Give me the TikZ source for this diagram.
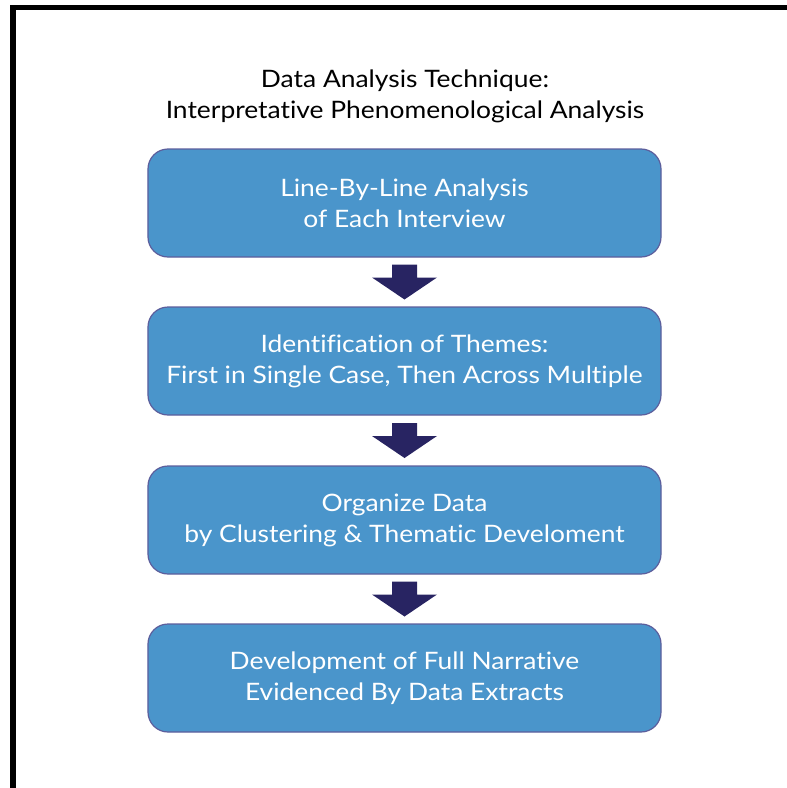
\documentclass[tikz,border=0pt]{standalone}
\usepackage{fontspec}
\setmainfont{Lato}[FakeStretch=1.1, Ligatures={NoCommon}]
\usetikzlibrary{calc}
\definecolor{boxfill}{RGB}{74,149,203}
\definecolor{boxline}{RGB}{92,94,156}
\definecolor{arrowc}{RGB}{40,36,98}
\tikzset{
  stepbox/.style={rectangle, rounded corners=20bp, minimum width=513bp, minimum height=108bp,
    fill=boxfill, draw=boxline, line width=1.2bp, text=white, align=center,
    font=\fontsize{24bp}{31bp}\selectfont, inner sep=0pt},
  titletext/.style={align=center, font=\fontsize{24bp}{31bp}\selectfont, text=black, inner sep=0pt},
  blockarrow/.style={fill=arrowc, draw=none}
}
\begin{document}
\begin{tikzpicture}[x=1bp,y=-1bp]
\useasboundingbox (0,0) rectangle (787,788);
\clip (0,0) rectangle (787,788);
\draw[line width=5.5bp, line cap=rect] (13,795) -- (13,7.5) -- (795,7.5);
\node[titletext] (title) at (405,96) {Data Analysis Technique:\\Interpretative Phenomenological Analysis};
\node[stepbox] (b1) at (404.5,203) {Line-By-Line Analysis\\of Each Interview};
\node[stepbox] (b2) at (404.5,361) {Identification of Themes:\\First in Single Case, Then Across Multiple};
\node[stepbox] (b3) at (404.5,520) {Organize Data\\by Clustering \& Thematic Develoment};
\node[stepbox] (b4) at (404.5,678) {Development of Full Narrative\\Evidenced By Data Extracts};
\foreach \a/\b/\n in {b1/b2/m1, b2/b3/m2, b3/b4/m3}{
  \coordinate (\n) at ($(\a.south)!0.5!(\b.north)$);
  \fill[blockarrow] ($(\n)+(-12.5,-17.5)$) -- ($(\n)+(12.5,-17.5)$) -- ($(\n)+(12.5,-4.5)$) -- ($(\n)+(32.5,-4.5)$) -- ($(\n)+(0,17.5)$) -- ($(\n)+(-32.5,-4.5)$) -- ($(\n)+(-12.5,-4.5)$) -- cycle;
}
\end{tikzpicture}
\end{document}
